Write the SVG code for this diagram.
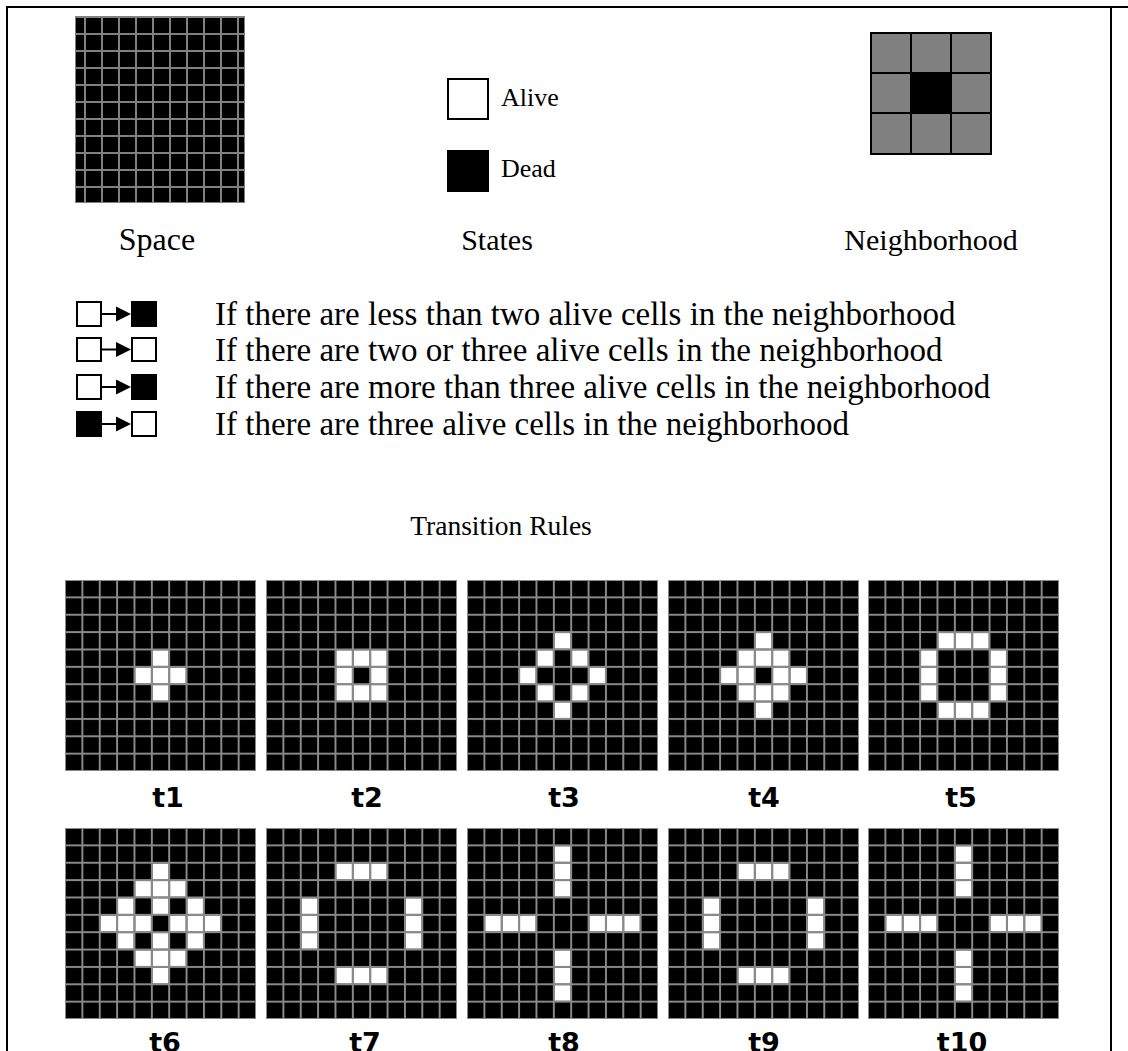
<svg xmlns="http://www.w3.org/2000/svg" width="1128" height="1051" viewBox="0 0 1128 1051">
<style>
.serif{font-family:"Liberation Serif","Times New Roman",serif;font-size:26px;fill:#000}
.rule{font-size:33px}
.lbl{font-size:30px}
.tl{font-family:"DejaVu Sans",sans-serif;font-weight:bold;font-size:27px;fill:#000;text-anchor:middle}
.mid{text-anchor:middle}
.wsq{fill:#fff;stroke:#000;stroke-width:2}
.bsq{fill:#000;stroke:#000;stroke-width:2}
.frame{fill:none;stroke:#000;stroke-width:2}
</style>
<defs>
<pattern id="spaceCells" patternUnits="userSpaceOnUse" width="17" height="17">
<rect width="17" height="17" fill="#808080"/>
<rect x="1" y="1" width="15" height="15" fill="#000"/>
</pattern>
<pattern id="cells" patternUnits="userSpaceOnUse" width="17.364" height="17.364">
<rect width="17.364" height="17.364" fill="#8a8a8a"/>
<rect x="1" y="1" width="15.4" height="15.4" fill="#000"/>
</pattern>
<rect id="w" x="1" y="1" width="15.4" height="15.4" fill="#fff"/>
<g id="arrow">
<line x1="101" y1="0" x2="119" y2="0" stroke="#000" stroke-width="2"/>
<polygon points="116,-7.5 131,0 116,7.5" fill="#000"/>
</g>
<rect id="gridbg" width="191" height="191" fill="url(#cells)"/>
</defs>

<g id="frame">
<path class="frame" d="M7,1051 V7 H1128"/>
<line x1="1111" y1="7" x2="1111" y2="1051" stroke="#000" stroke-width="2"/>
</g>

<g id="space">
<rect x="75" y="16" width="170" height="187" fill="url(#spaceCells)"/>
<rect x="75.5" y="16.5" width="169" height="186" fill="none" stroke="#808080" stroke-width="1"/>
<text class="serif mid" x="157" y="250" style="font-size:32px">Space</text>
</g>

<g id="states">
<rect class="wsq" x="448" y="79" width="40" height="40"/>
<text class="serif" x="501" y="106">Alive</text>
<rect class="bsq" x="448" y="151" width="40" height="40"/>
<text class="serif" x="501" y="177">Dead</text>
<text class="serif lbl mid" x="497" y="250">States</text>
</g>

<g id="neighborhood">
<rect x="871" y="33" width="120" height="121" fill="#808080" stroke="#000" stroke-width="2"/>
<rect x="911" y="73" width="40" height="40" fill="#000"/>
<line x1="911" y1="33" x2="911" y2="154" stroke="#000" stroke-width="2"/>
<line x1="951" y1="33" x2="951" y2="154" stroke="#000" stroke-width="2"/>
<line x1="871" y1="73" x2="991" y2="73" stroke="#000" stroke-width="2"/>
<line x1="871" y1="113" x2="991" y2="113" stroke="#000" stroke-width="2"/>
<text class="serif lbl mid" x="931" y="250">Neighborhood</text>
</g>

<g id="rules">
<g id="rule1">
<rect class="wsq" x="77" y="302" width="24" height="24"/>
<use href="#arrow" transform="translate(0,314)"/>
<rect class="bsq" x="132" y="302" width="24" height="24"/>
<text class="serif rule" x="215" y="325">If there are less than two alive cells in the neighborhood</text>
</g>
<g id="rule2">
<rect class="wsq" x="77" y="338" width="24" height="23"/>
<use href="#arrow" transform="translate(0,349.5)"/>
<rect class="wsq" x="132" y="338" width="24" height="23"/>
<text class="serif rule" x="215" y="361">If there are two or three alive cells in the neighborhood</text>
</g>
<g id="rule3">
<rect class="wsq" x="77" y="375" width="24" height="24"/>
<use href="#arrow" transform="translate(0,387)"/>
<rect class="bsq" x="132" y="375" width="24" height="24"/>
<text class="serif rule" x="215" y="398">If there are more than three alive cells in the neighborhood</text>
</g>
<g id="rule4">
<rect class="bsq" x="77" y="412" width="24" height="24"/>
<use href="#arrow" transform="translate(0,424)"/>
<rect class="wsq" x="132" y="412" width="24" height="24"/>
<text class="serif rule" x="215" y="435">If there are three alive cells in the neighborhood</text>
</g>
<text class="serif mid" x="501" y="535" style="font-size:27.5px">Transition Rules</text>
</g>

<g id="t1" transform="translate(65,580)">
<use href="#gridbg"/>
<use href="#w" x="86.82" y="69.46"/>
<use href="#w" x="69.46" y="86.82"/><use href="#w" x="86.82" y="86.82"/><use href="#w" x="104.18" y="86.82"/>
<use href="#w" x="86.82" y="104.18"/>
<text class="tl" x="103" y="227">t1</text>
</g>

<g id="t2" transform="translate(266,580)">
<use href="#gridbg"/>
<use href="#w" x="69.46" y="69.46"/><use href="#w" x="86.82" y="69.46"/><use href="#w" x="104.18" y="69.46"/>
<use href="#w" x="69.46" y="86.82"/><use href="#w" x="104.18" y="86.82"/>
<use href="#w" x="69.46" y="104.18"/><use href="#w" x="86.82" y="104.18"/><use href="#w" x="104.18" y="104.18"/>
<text class="tl" x="101" y="227">t2</text>
</g>

<g id="t3" transform="translate(467,580)">
<use href="#gridbg"/>
<use href="#w" x="86.82" y="52.09"/>
<use href="#w" x="69.46" y="69.46"/><use href="#w" x="104.18" y="69.46"/>
<use href="#w" x="52.09" y="86.82"/><use href="#w" x="121.55" y="86.82"/>
<use href="#w" x="69.46" y="104.18"/><use href="#w" x="104.18" y="104.18"/>
<use href="#w" x="86.82" y="121.55"/>
<text class="tl" x="97" y="227">t3</text>
</g>

<g id="t4" transform="translate(668,580)">
<use href="#gridbg"/>
<use href="#w" x="86.82" y="52.09"/>
<use href="#w" x="69.46" y="69.46"/><use href="#w" x="86.82" y="69.46"/><use href="#w" x="104.18" y="69.46"/>
<use href="#w" x="52.09" y="86.82"/><use href="#w" x="69.46" y="86.82"/><use href="#w" x="104.18" y="86.82"/><use href="#w" x="121.55" y="86.82"/>
<use href="#w" x="69.46" y="104.18"/><use href="#w" x="86.82" y="104.18"/><use href="#w" x="104.18" y="104.18"/>
<use href="#w" x="86.82" y="121.55"/>
<text class="tl" x="96" y="227">t4</text>
</g>

<g id="t5" transform="translate(868,580)">
<use href="#gridbg"/>
<use href="#w" x="69.46" y="52.09"/><use href="#w" x="86.82" y="52.09"/><use href="#w" x="104.18" y="52.09"/>
<use href="#w" x="52.09" y="69.46"/><use href="#w" x="121.55" y="69.46"/>
<use href="#w" x="52.09" y="86.82"/><use href="#w" x="121.55" y="86.82"/>
<use href="#w" x="52.09" y="104.18"/><use href="#w" x="121.55" y="104.18"/>
<use href="#w" x="69.46" y="121.55"/><use href="#w" x="86.82" y="121.55"/><use href="#w" x="104.18" y="121.55"/>
<text class="tl" x="93" y="227">t5</text>
</g>

<g id="t6" transform="translate(65,828)">
<use href="#gridbg"/>
<use href="#w" x="86.82" y="34.73"/>
<use href="#w" x="69.46" y="52.09"/><use href="#w" x="86.82" y="52.09"/><use href="#w" x="104.18" y="52.09"/>
<use href="#w" x="52.09" y="69.46"/><use href="#w" x="86.82" y="69.46"/><use href="#w" x="121.55" y="69.46"/>
<use href="#w" x="34.73" y="86.82"/><use href="#w" x="52.09" y="86.82"/><use href="#w" x="69.46" y="86.82"/><use href="#w" x="104.18" y="86.82"/><use href="#w" x="121.55" y="86.82"/><use href="#w" x="138.91" y="86.82"/>
<use href="#w" x="52.09" y="104.18"/><use href="#w" x="86.82" y="104.18"/><use href="#w" x="121.55" y="104.18"/>
<use href="#w" x="69.46" y="121.55"/><use href="#w" x="86.82" y="121.55"/><use href="#w" x="104.18" y="121.55"/>
<use href="#w" x="86.82" y="138.91"/>
<text class="tl" x="100" y="224">t6</text>
</g>

<g id="t7" transform="translate(266,828)">
<use href="#gridbg"/>
<use href="#w" x="69.46" y="34.73"/><use href="#w" x="86.82" y="34.73"/><use href="#w" x="104.18" y="34.73"/>
<use href="#w" x="34.73" y="69.46"/><use href="#w" x="138.91" y="69.46"/>
<use href="#w" x="34.73" y="86.82"/><use href="#w" x="138.91" y="86.82"/>
<use href="#w" x="34.73" y="104.18"/><use href="#w" x="138.91" y="104.18"/>
<use href="#w" x="69.46" y="138.91"/><use href="#w" x="86.82" y="138.91"/><use href="#w" x="104.18" y="138.91"/>
<text class="tl" x="99" y="224">t7</text>
</g>

<g id="t8" transform="translate(467,828)">
<use href="#gridbg"/>
<use href="#w" x="86.82" y="17.36"/><use href="#w" x="86.82" y="34.73"/><use href="#w" x="86.82" y="52.09"/>
<use href="#w" x="17.36" y="86.82"/><use href="#w" x="34.73" y="86.82"/><use href="#w" x="52.09" y="86.82"/>
<use href="#w" x="121.55" y="86.82"/><use href="#w" x="138.91" y="86.82"/><use href="#w" x="156.27" y="86.82"/>
<use href="#w" x="86.82" y="121.55"/><use href="#w" x="86.82" y="138.91"/><use href="#w" x="86.82" y="156.27"/>
<text class="tl" x="97" y="224">t8</text>
</g>

<g id="t9" transform="translate(668,828)">
<use href="#gridbg"/>
<use href="#w" x="69.46" y="34.73"/><use href="#w" x="86.82" y="34.73"/><use href="#w" x="104.18" y="34.73"/>
<use href="#w" x="34.73" y="69.46"/><use href="#w" x="138.91" y="69.46"/>
<use href="#w" x="34.73" y="86.82"/><use href="#w" x="138.91" y="86.82"/>
<use href="#w" x="34.73" y="104.18"/><use href="#w" x="138.91" y="104.18"/>
<use href="#w" x="69.46" y="138.91"/><use href="#w" x="86.82" y="138.91"/><use href="#w" x="104.18" y="138.91"/>
<text class="tl" x="96" y="224">t9</text>
</g>

<g id="t10" transform="translate(868,828)">
<use href="#gridbg"/>
<use href="#w" x="86.82" y="17.36"/><use href="#w" x="86.82" y="34.73"/><use href="#w" x="86.82" y="52.09"/>
<use href="#w" x="17.36" y="86.82"/><use href="#w" x="34.73" y="86.82"/><use href="#w" x="52.09" y="86.82"/>
<use href="#w" x="121.55" y="86.82"/><use href="#w" x="138.91" y="86.82"/><use href="#w" x="156.27" y="86.82"/>
<use href="#w" x="86.82" y="121.55"/><use href="#w" x="86.82" y="138.91"/><use href="#w" x="86.82" y="156.27"/>
<text class="tl" x="94" y="224">t10</text>
</g>

<g id="connectors"></g>
</svg>
